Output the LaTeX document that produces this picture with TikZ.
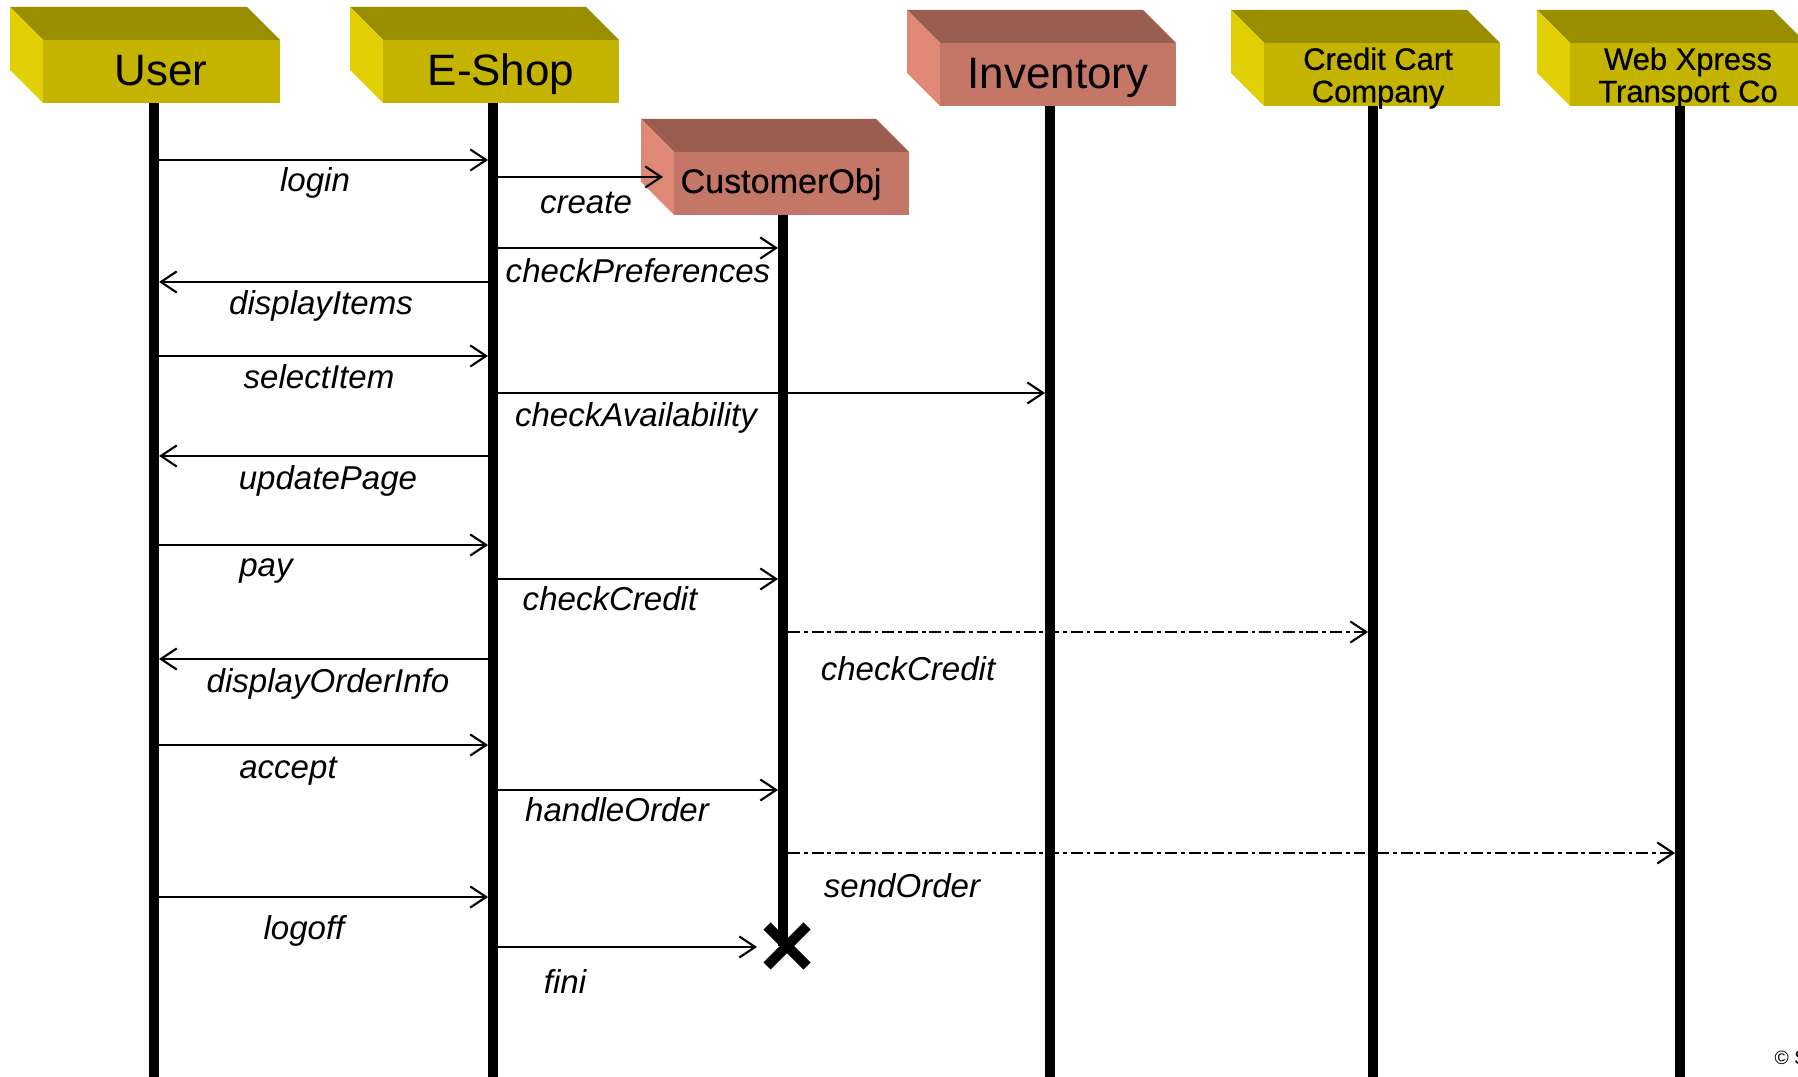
\documentclass[tikz,border=0pt]{standalone}
\usepackage{fontspec}
\setmainfont{Liberation Sans}
\usetikzlibrary{arrows.meta}

\definecolor{olivetop}{HTML}{998E00}
\definecolor{olivefront}{HTML}{C4B400}
\definecolor{oliveside}{HTML}{E0CF05}
\definecolor{salmontop}{HTML}{995E50}
\definecolor{salmonfront}{HTML}{C47667}
\definecolor{salmonside}{HTML}{E08876}

\newcommand{\objbox}[5]{%
  \fill[#5top] (#1-33,#2-33) -- (#3-33,#2-33) -- (#3,#2) -- (#1,#2) -- cycle;
  \fill[#5side] (#1-33,#2-33) -- (#1,#2) -- (#1,#4) -- (#1-33,#4-33) -- cycle;
  \fill[#5front] (#1,#2) rectangle (#3,#4);
}

\begin{document}
\begin{tikzpicture}[x=0.01cm,y=-0.01cm,
  lifeline/.style={line width=2.85pt},
  msg/.style={line width=0.6pt,-{Straight Barb[length=4.5pt,width=6pt]}},
  async/.style={msg,dash pattern=on 3.4pt off 1.1pt on 1.1pt off 1.1pt},
  msglabel/.style={anchor=base,font=\fontsize{9.4}{11}\selectfont\itshape},
  headtext/.style={anchor=base,font=\fontsize{12.5}{14}\selectfont},
  smallhead/.style={align=center,font=\fontsize{8.8}{9.2}\selectfont\addfontfeatures{FakeBold=0.6}}]

\useasboundingbox (0,0) rectangle (1798,1077);

\objbox{43}{40}{280}{103}{olive}
\objbox{383}{40}{619}{103}{olive}
\objbox{674}{152}{909}{215}{salmon}
\objbox{940}{43}{1176}{106}{salmon}
\objbox{1264}{43}{1500}{106}{olive}
\objbox{1570}{43}{1806}{106}{olive}

\node[headtext] (user) at (161,86) {User};
\node[headtext] (eshop) at (501,86) {E-Shop};
\node[anchor=base,font=\fontsize{9.7}{11}\selectfont\addfontfeatures{FakeBold=0.4}] (custobj) at (781,193) {CustomerObj};
\node[headtext] (inventory) at (1058,89) {Inventory};
\node[smallhead] (credit) at (1378,78) {Credit Cart\\Company};
\node[smallhead] (webx) at (1688,78) {Web Xpress\\Transport Co};

\coordinate (U0) at (154,103);
\coordinate (U9) at (154,1077);
\coordinate (E0) at (493,103);
\coordinate (E9) at (493,1077);
\coordinate (C0) at (783,215);
\coordinate (C9) at (783,946);
\coordinate (I0) at (1050,106);
\coordinate (I9) at (1050,1077);
\coordinate (K0) at (1373,106);
\coordinate (K9) at (1373,1077);
\coordinate (W0) at (1680,106);
\coordinate (W9) at (1680,1077);

\draw[lifeline] (U0) -- (U9);
\draw[lifeline] (E0) -- (E9);
\draw[lifeline] (C0) -- (C9);
\draw[lifeline] (I0) -- (I9);
\draw[lifeline] (K0) -- (K9);
\draw[lifeline] (W0) -- (W9);

\coordinate (login1) at (159,160);
\coordinate (login2) at (488,160);
\coordinate (create1) at (498,177);
\coordinate (create2) at (663,177);
\coordinate (pref1) at (498,248);
\coordinate (pref2) at (778,248);
\coordinate (items1) at (488,282);
\coordinate (items2) at (159,282);
\coordinate (select1) at (159,356);
\coordinate (select2) at (488,356);
\coordinate (avail1) at (498,393);
\coordinate (avail2) at (1045,393);
\coordinate (update1) at (488,456);
\coordinate (update2) at (159,456);
\coordinate (pay1) at (159,545);
\coordinate (pay2) at (488,545);
\coordinate (credit1) at (498,579);
\coordinate (credit2) at (778,579);
\coordinate (credit3) at (788,632);
\coordinate (credit4) at (1368,632);
\coordinate (order1) at (488,659);
\coordinate (order2) at (159,659);
\coordinate (accept1) at (159,745);
\coordinate (accept2) at (488,745);
\coordinate (handle1) at (498,790);
\coordinate (handle2) at (778,790);
\coordinate (send1) at (788,853);
\coordinate (send2) at (1675,853);
\coordinate (logoff1) at (159,897);
\coordinate (logoff2) at (488,897);
\coordinate (fini1) at (498,947);
\coordinate (fini2) at (757,947);

\draw[msg] (login1) -- (login2);
\draw[msg] (create1) -- (create2);
\draw[msg] (pref1) -- (pref2);
\draw[msg] (items1) -- (items2);
\draw[msg] (select1) -- (select2);
\draw[msg] (avail1) -- (avail2);
\draw[msg] (update1) -- (update2);
\draw[msg] (pay1) -- (pay2);
\draw[msg] (credit1) -- (credit2);
\draw[async] (credit3) -- (credit4);
\draw[msg] (order1) -- (order2);
\draw[msg] (accept1) -- (accept2);
\draw[msg] (handle1) -- (handle2);
\draw[async] (send1) -- (send2);
\draw[msg] (logoff1) -- (logoff2);
\draw[msg] (fini1) -- (fini2);

\node[msglabel] (loginlbl) at (315,192) {login};
\node[msglabel] (createlbl) at (586,214) {create};
\node[msglabel] (preflbl) at (638,283) {checkPreferences};
\node[msglabel] (itemslbl) at (321,315) {displayItems};
\node[msglabel] (selectlbl) at (319,389) {selectItem};
\node[msglabel] (availlbl) at (636,427) {checkAvailability};
\node[msglabel] (updatelbl) at (328,490) {updatePage};
\node[msglabel] (paylbl) at (266,577) {pay};
\node[msglabel] (creditlbl) at (610,611) {checkCredit};
\node[msglabel] (creditlbl2) at (908,681) {checkCredit};
\node[msglabel] (orderlbl) at (328,693) {displayOrderInfo};
\node[msglabel] (acceptlbl) at (288,778) {accept};
\node[msglabel] (handlelbl) at (617,822) {handleOrder};
\node[msglabel] (sendlbl) at (902,897) {sendOrder};
\node[msglabel] (logofflbl) at (304,939) {logoff};
\node[msglabel] (finilbl) at (565,993) {fini};

\coordinate (X1) at (767,926);
\coordinate (X2) at (807,966);
\coordinate (X3) at (767,966);
\coordinate (X4) at (807,926);
\draw[line width=2.85pt] (X1) -- (X2);
\draw[line width=2.85pt] (X3) -- (X4);

\node[anchor=base west,inner sep=0pt,font=\fontsize{5.5}{6}\selectfont] (copy) at (1774,1064) {\copyright{} S};

\end{tikzpicture}
\end{document}
